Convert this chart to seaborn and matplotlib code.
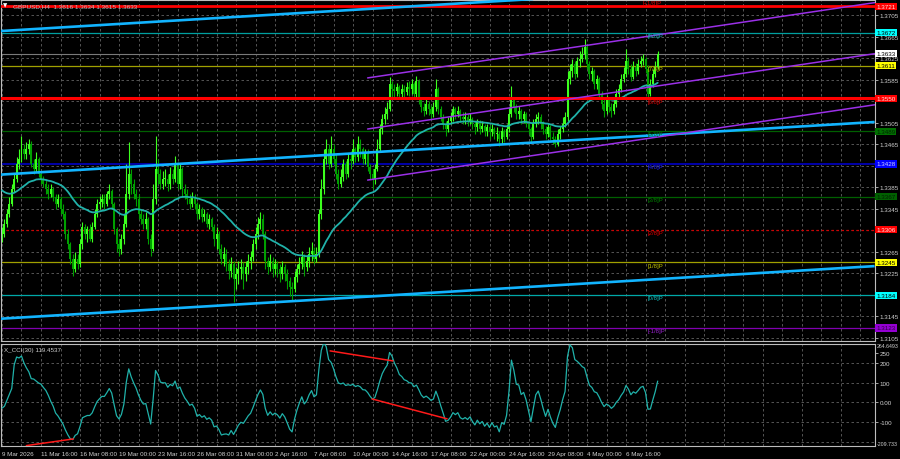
import numpy as np
import pandas as pd
import matplotlib
matplotlib.use("Agg")
import matplotlib.pyplot as plt
import matplotlib.transforms as mtransforms
import seaborn as sns

# ---------------- data ----------------
title_text = "GBPUSD,H4  1.3616 1.3634 1.3615 1.3633"
cci_title = "X_CCI(30) 119.4537"

first_open = 1.3288
close = [
    1.3298, 1.3316, 1.3335, 1.3354, 1.3381, 1.3400, 1.3428, 1.3437, 1.3456, 1.3447,
    1.3456, 1.3465, 1.3428, 1.3419, 1.3437, 1.3409, 1.3400, 1.3391, 1.3381, 1.3372,
    1.3381, 1.3367, 1.3354, 1.3363, 1.3344, 1.3335, 1.3298, 1.3279, 1.3251, 1.3233,
    1.3251, 1.3242, 1.3279, 1.3311, 1.3298, 1.3307, 1.3288, 1.3311, 1.3335, 1.3354,
    1.3357, 1.3363, 1.3354, 1.3372, 1.3378, 1.3354, 1.3307, 1.3279, 1.3270, 1.3288,
    1.3316, 1.3372, 1.3409, 1.3391, 1.3372, 1.3363, 1.3335, 1.3326, 1.3316, 1.3326,
    1.3288, 1.3270, 1.3363, 1.3419, 1.3409, 1.3391, 1.3400, 1.3400, 1.3391, 1.3409,
    1.3400, 1.3428, 1.3391, 1.3419, 1.3381, 1.3372, 1.3363, 1.3354, 1.3367, 1.3354,
    1.3335, 1.3344, 1.3329, 1.3335, 1.3316, 1.3326, 1.3311, 1.3288, 1.3298, 1.3270,
    1.3251, 1.3261, 1.3242, 1.3229, 1.3242, 1.3214, 1.3223, 1.3233, 1.3236, 1.3223,
    1.3236, 1.3248, 1.3255, 1.3279, 1.3298, 1.3316, 1.3326, 1.3298, 1.3248, 1.3236,
    1.3248, 1.3233, 1.3242, 1.3233, 1.3223, 1.3236, 1.3223, 1.3210, 1.3199, 1.3195,
    1.3218, 1.3233, 1.3242, 1.3255, 1.3236, 1.3248, 1.3261, 1.3266, 1.3251, 1.3261,
    1.3335, 1.3381, 1.3437, 1.3456, 1.3428, 1.3456, 1.3437, 1.3409, 1.3391, 1.3404,
    1.3428, 1.3409, 1.3437, 1.3434, 1.3456, 1.3441, 1.3465, 1.3456, 1.3437, 1.3447,
    1.3422, 1.3409, 1.3400, 1.3419, 1.3456, 1.3493, 1.3512, 1.3521, 1.3530, 1.3577,
    1.3567, 1.3564, 1.3571, 1.3558, 1.3567, 1.3562, 1.3571, 1.3567, 1.3577, 1.3558,
    1.3582, 1.3549, 1.3534, 1.3527, 1.3540, 1.3530, 1.3521, 1.3534, 1.3567, 1.3530,
    1.3515, 1.3502, 1.3493, 1.3508, 1.3515, 1.3530, 1.3521, 1.3527, 1.3515, 1.3512,
    1.3515, 1.3508, 1.3512, 1.3502, 1.3497, 1.3506, 1.3493, 1.3499, 1.3489, 1.3497,
    1.3487, 1.3493, 1.3484, 1.3484, 1.3474, 1.3489, 1.3478, 1.3493, 1.3521, 1.3549,
    1.3534, 1.3521, 1.3527, 1.3512, 1.3521, 1.3502, 1.3493, 1.3478, 1.3502, 1.3512,
    1.3515, 1.3502, 1.3493, 1.3484, 1.3497, 1.3478, 1.3474, 1.3465, 1.3484, 1.3493,
    1.3502, 1.3515, 1.3586, 1.3601, 1.3614, 1.3595, 1.3620, 1.3623, 1.3633, 1.3646,
    1.3614, 1.3595, 1.3601, 1.3577, 1.3586, 1.3558, 1.3540, 1.3527, 1.3549, 1.3534,
    1.3527, 1.3540, 1.3558, 1.3567, 1.3586, 1.3595, 1.3620, 1.3605, 1.3590, 1.3608,
    1.3601, 1.3614, 1.3620, 1.3623, 1.3605, 1.3558, 1.3577, 1.3595, 1.3608, 1.3633,
]
high = [
    1.3311, 1.3326, 1.3344, 1.3367, 1.3391, 1.3409, 1.3441, 1.3456, 1.3480, 1.3465,
    1.3469, 1.3474, 1.3471, 1.3437, 1.3450, 1.3441, 1.3415, 1.3406, 1.3400, 1.3391,
    1.3391, 1.3385, 1.3372, 1.3372, 1.3367, 1.3354, 1.3341, 1.3307, 1.3283, 1.3261,
    1.3264, 1.3261, 1.3288, 1.3320, 1.3316, 1.3313, 1.3316, 1.3320, 1.3344, 1.3363,
    1.3368, 1.3372, 1.3372, 1.3378, 1.3391, 1.3381, 1.3357, 1.3311, 1.3288, 1.3298,
    1.3335, 1.3428, 1.3469, 1.3419, 1.3400, 1.3381, 1.3372, 1.3344, 1.3335, 1.3339,
    1.3329, 1.3298, 1.3391, 1.3480, 1.3437, 1.3419, 1.3415, 1.3419, 1.3409, 1.3422,
    1.3419, 1.3443, 1.3432, 1.3428, 1.3422, 1.3391, 1.3381, 1.3372, 1.3376, 1.3372,
    1.3357, 1.3354, 1.3348, 1.3344, 1.3339, 1.3335, 1.3329, 1.3316, 1.3311, 1.3303,
    1.3279, 1.3274, 1.3270, 1.3251, 1.3255, 1.3248, 1.3236, 1.3248, 1.3251, 1.3246,
    1.3248, 1.3261, 1.3266, 1.3288, 1.3311, 1.3329, 1.3339, 1.3335, 1.3303, 1.3255,
    1.3261, 1.3255, 1.3251, 1.3248, 1.3242, 1.3248, 1.3242, 1.3233, 1.3218, 1.3208,
    1.3229, 1.3242, 1.3255, 1.3266, 1.3261, 1.3259, 1.3274, 1.3283, 1.3274, 1.3274,
    1.3344, 1.3400, 1.3456, 1.3474, 1.3465, 1.3480, 1.3465, 1.3447, 1.3419, 1.3419,
    1.3437, 1.3434, 1.3447, 1.3452, 1.3474, 1.3460, 1.3480, 1.3474, 1.3460, 1.3456,
    1.3456, 1.3428, 1.3419, 1.3428, 1.3474, 1.3502, 1.3521, 1.3534, 1.3543, 1.3590,
    1.3582, 1.3577, 1.3579, 1.3575, 1.3577, 1.3575, 1.3580, 1.3582, 1.3586, 1.3580,
    1.3592, 1.3586, 1.3553, 1.3541, 1.3549, 1.3545, 1.3538, 1.3543, 1.3586, 1.3571,
    1.3536, 1.3521, 1.3508, 1.3515, 1.3525, 1.3536, 1.3534, 1.3536, 1.3530, 1.3525,
    1.3525, 1.3521, 1.3523, 1.3515, 1.3508, 1.3512, 1.3510, 1.3508, 1.3502, 1.3502,
    1.3500, 1.3502, 1.3497, 1.3497, 1.3489, 1.3497, 1.3493, 1.3502, 1.3534, 1.3573,
    1.3553, 1.3540, 1.3536, 1.3530, 1.3527, 1.3525, 1.3508, 1.3497, 1.3512, 1.3521,
    1.3525, 1.3521, 1.3508, 1.3499, 1.3504, 1.3500, 1.3487, 1.3480, 1.3493, 1.3499,
    1.3515, 1.3525, 1.3601, 1.3614, 1.3623, 1.3620, 1.3627, 1.3638, 1.3646, 1.3660,
    1.3651, 1.3620, 1.3608, 1.3605, 1.3593, 1.3590, 1.3564, 1.3549, 1.3556, 1.3553,
    1.3541, 1.3549, 1.3567, 1.3577, 1.3595, 1.3608, 1.3642, 1.3627, 1.3614, 1.3620,
    1.3616, 1.3623, 1.3629, 1.3633, 1.3627, 1.3612, 1.3586, 1.3605, 1.3620, 1.3638,
]
low = [
    1.3283, 1.3292, 1.3311, 1.3329, 1.3350, 1.3376, 1.3394, 1.3419, 1.3432, 1.3437,
    1.3437, 1.3447, 1.3422, 1.3409, 1.3413, 1.3404, 1.3391, 1.3385, 1.3372, 1.3363,
    1.3367, 1.3359, 1.3344, 1.3348, 1.3335, 1.3326, 1.3288, 1.3270, 1.3242, 1.3220,
    1.3227, 1.3233, 1.3236, 1.3270, 1.3288, 1.3283, 1.3285, 1.3283, 1.3307, 1.3329,
    1.3344, 1.3348, 1.3344, 1.3350, 1.3363, 1.3344, 1.3298, 1.3264, 1.3257, 1.3261,
    1.3279, 1.3311, 1.3363, 1.3372, 1.3363, 1.3350, 1.3326, 1.3316, 1.3307, 1.3307,
    1.3279, 1.3257, 1.3266, 1.3354, 1.3391, 1.3381, 1.3381, 1.3387, 1.3378, 1.3381,
    1.3391, 1.3394, 1.3381, 1.3381, 1.3368, 1.3363, 1.3354, 1.3344, 1.3348, 1.3344,
    1.3326, 1.3326, 1.3320, 1.3322, 1.3311, 1.3307, 1.3303, 1.3275, 1.3270, 1.3261,
    1.3242, 1.3238, 1.3229, 1.3214, 1.3218, 1.3171, 1.3195, 1.3205, 1.3214, 1.3195,
    1.3210, 1.3223, 1.3233, 1.3248, 1.3270, 1.3288, 1.3307, 1.3288, 1.3233, 1.3223,
    1.3229, 1.3218, 1.3223, 1.3218, 1.3208, 1.3214, 1.3210, 1.3195, 1.3182, 1.3173,
    1.3190, 1.3208, 1.3223, 1.3233, 1.3220, 1.3229, 1.3236, 1.3248, 1.3242, 1.3246,
    1.3255, 1.3326, 1.3372, 1.3428, 1.3419, 1.3422, 1.3428, 1.3400, 1.3381, 1.3385,
    1.3396, 1.3400, 1.3404, 1.3419, 1.3428, 1.3432, 1.3434, 1.3441, 1.3428, 1.3428,
    1.3415, 1.3400, 1.3381, 1.3391, 1.3415, 1.3452, 1.3484, 1.3502, 1.3512, 1.3527,
    1.3553, 1.3553, 1.3554, 1.3549, 1.3553, 1.3553, 1.3556, 1.3554, 1.3558, 1.3549,
    1.3553, 1.3540, 1.3525, 1.3517, 1.3521, 1.3519, 1.3512, 1.3515, 1.3527, 1.3521,
    1.3508, 1.3493, 1.3480, 1.3487, 1.3502, 1.3508, 1.3512, 1.3515, 1.3506, 1.3502,
    1.3502, 1.3499, 1.3502, 1.3493, 1.3484, 1.3489, 1.3484, 1.3487, 1.3480, 1.3480,
    1.3474, 1.3480, 1.3474, 1.3471, 1.3461, 1.3465, 1.3469, 1.3474, 1.3487, 1.3515,
    1.3525, 1.3512, 1.3512, 1.3502, 1.3504, 1.3497, 1.3484, 1.3469, 1.3474, 1.3497,
    1.3502, 1.3493, 1.3484, 1.3474, 1.3478, 1.3473, 1.3465, 1.3460, 1.3461, 1.3474,
    1.3487, 1.3497, 1.3508, 1.3577, 1.3590, 1.3586, 1.3590, 1.3608, 1.3618, 1.3623,
    1.3605, 1.3586, 1.3582, 1.3567, 1.3567, 1.3549, 1.3530, 1.3515, 1.3521, 1.3525,
    1.3515, 1.3521, 1.3534, 1.3549, 1.3562, 1.3580, 1.3590, 1.3595, 1.3582, 1.3586,
    1.3592, 1.3595, 1.3608, 1.3612, 1.3597, 1.3549, 1.3554, 1.3571, 1.3590, 1.3605,
]

date_labels = ["9 Mar 2026", "11 Mar 16:00", "16 Mar 08:00", "19 Mar 00:00",
               "23 Mar 16:00", "26 Mar 08:00", "31 Mar 00:00", "2 Apr 16:00",
               "7 Apr 08:00", "10 Apr 00:00", "14 Apr 16:00", "17 Apr 08:00",
               "22 Apr 00:00", "24 Apr 16:00", "29 Apr 08:00", "4 May 00:00",
               "6 May 16:00"]
bars_per_label = 16

ma_period = 20          # smoothed moving average
ma_seed = 1.3383        # MA value at the left edge
cci_period = 30
cci_head = [-30, -20, 10, 40, 70, 190, 230, 225, 235, 200, 175, 155, 120, 118,
            108, 98, 92, 75, 60, 35, 5, -20, -55, -70, -90, -110, -140, -165, -185]

price_ticks = [1.3105, 1.3145, 1.3185, 1.3225, 1.3265, 1.3305, 1.3345, 1.3385,
               1.3425, 1.3465, 1.3505, 1.3545, 1.3585, 1.3625, 1.3665, 1.3705]
hidden_price_ticks = [1.3185, 1.3305, 1.3425, 1.3545]   # covered by level boxes
cci_ticks = [250, 200, 100, 0, -100]
cci_tick_labels = ["250", "200", "100", "0.00", "-100"]
cci_max_label = "264.6493"
cci_min_value = -209.733
cci_grid = [200, 100, 0, -100, -200]

murray_levels = [1.3672, 1.3611, 1.3550, 1.3489, 1.3428, 1.3367, 1.3306, 1.3245, 1.3184, 1.3123]
murray_names = ["[8/8]P", "[7/8]P", "[6/8]P", "[5/8]P", "[4/8]P", "[3/8]P",
                "[2/8]P", "[1/8]P", "[0/8]P", "[-1/8]P"]
murray_top_level = 1.3733
murray_top_name = "[+1/8]P"
murray_label_bar = 265

resist_top = 1.3721
resist_mid = 1.3550
bid_price = 1.3633

# equidistant (cyan) channel: bar index endpoints and prices
cyan_x = [-1, 358]
cyan_upper = [1.3675, 1.3773]
cyan_mid = [1.3408, 1.3506]
cyan_lower = [1.3140, 1.3238]

# regression (purple) channel
purple_x = [150, 358]
purple_upper = [1.3588, 1.3728]
purple_mid = [1.3493, 1.3633]
purple_lower = [1.3398, 1.3538]

# CCI divergence lines
div_x = [[10, 29.3], [134.6, 160.4], [151.8, 182.6]]
div_y = [[-220, -186], [261, 210], [17, -84]]

# ---------------- style ----------------
sns.set_theme(style="dark", rc={
    "figure.facecolor": "black", "axes.facecolor": "black",
    "axes.edgecolor": "#bdbdbd", "axes.linewidth": 0.8,
    "xtick.color": "#bdbdbd", "ytick.color": "#bdbdbd",
    "text.color": "#d0d0d0"})
plt.rcParams["font.family"] = ["Liberation Sans", "DejaVu Sans"]

GRID = dict(color="#626262", linestyle=(0, (3, 3)), linewidth=0.6)
BULL = "#3cff1e"
BEAR = "#00a000"
MA_COL = "#20b2aa"
LBL = "#d0d0d0"
FS = 4.5

fig = plt.figure(figsize=(9, 4.6), dpi=100)
ax = fig.add_axes([1 / 900, 1 - 342 / 460, 874 / 900, 341 / 460])
ax2 = fig.add_axes([1 / 900, 1 - 447 / 460, 874 / 900, 102 / 460])

n = len(close)
idx = np.arange(n)
c = np.array(close)
o = np.array([first_open] + close[:-1])
h = np.maximum(np.array(high), np.maximum(o, c))
l = np.minimum(np.array(low), np.minimum(o, c))

df = pd.DataFrame({"bar": idx, "open": o, "high": h, "low": l, "close": c})

# smoothed MA
df["ma"] = pd.Series([ma_seed] + close).ewm(alpha=1 / ma_period, adjust=False).mean().iloc[1:].values
# CCI
tp = (df["high"] + df["low"] + df["close"]) / 3
sma = tp.rolling(cci_period).mean()
md = tp.rolling(cci_period).apply(lambda x: np.mean(np.abs(x - x.mean())), raw=True)
cci = (tp - sma) / (0.015 * md)
cci.iloc[:len(cci_head)] = cci_head
df["cci"] = cci.values

xlim = (-0.41, 358.15)

# ---------------- main panel ----------------
ax.set_xlim(*xlim)
ax.set_ylim(1.30987, 1.37329)
ax.set_yticks(price_ticks)
ax.set_yticklabels(["" if v in hidden_price_ticks else f"{v:.4f}" for v in price_ticks])
ax.yaxis.tick_right()
ax.tick_params(axis="y", length=2, width=0.6, pad=1.2, labelsize=FS, labelcolor=LBL)
ax.set_xticks(np.arange(0, 359, bars_per_label))
ax.set_xticks(np.arange(8, 359, bars_per_label), minor=True)
ax.tick_params(axis="x", which="both", length=0, labelbottom=False)
ax.grid(True, which="both", **GRID)
ax.set_axisbelow(True)

# murray levels
m_cols = ["#00a0a0", "#a0a000", "#d00000", "#006000", "#0000a8",
          "#006000", "#d00000", "#a0a000", "#00a8a8", "#8000b0"]
m_txt = ["#10b0b0", "#c0c000", "#e00000", "#007000", "#2020ff",
         "#008000", "#e00000", "#c0c000", "#10c0c0", "#9a20d0"]
for lv, col, nm, tc in zip(murray_levels, m_cols, murray_names, m_txt):
    ls = (0, (2, 2)) if nm == "[2/8]P" else "-"
    lw = 1.4 if nm == "[4/8]P" else 0.9
    ax.axhline(lv, color=col, lw=lw, ls=ls, zorder=1)
    ax.text(murray_label_bar, lv - 0.00005, nm, color=tc, fontsize=4.3,
            va="top", ha="left", zorder=6)
ax.text(murray_label_bar - 2, murray_top_level - 0.00005, murray_top_name,
        color="#e00000", fontsize=4.3, va="top", ha="left", zorder=6)

ax.axhline(bid_price, color="#7a7a7a", lw=0.8, zorder=1)

# candles
cols = np.where(c >= o, BULL, BEAR)
ax.vlines(df["bar"], df["low"], df["high"], colors=cols, lw=0.8, zorder=2)
body = np.maximum(np.abs(c - o), 0.00012)
ax.bar(df["bar"], body, bottom=np.minimum(o, c), width=0.8, color=cols,
       linewidth=0, zorder=2.2)

# moving average
sns.lineplot(data=df, x="bar", y="ma", ax=ax, color=MA_COL, lw=1.3,
             estimator=None, sort=False, zorder=3)

# horizontal red lines
ax.axhline(resist_top, color="#ff0000", lw=2.0, zorder=4)
ax.axhline(resist_mid, color="#ff0000", lw=2.2, zorder=4)

# channels
for yy in (cyan_upper, cyan_mid, cyan_lower):
    ax.plot(cyan_x, yy, color="#12b4ff", lw=1.9, zorder=4, solid_capstyle="butt")
for yy in (purple_upper, purple_mid, purple_lower):
    ax.plot(purple_x, yy, color="#9b30e8", lw=1.1, zorder=4)

ax.set_xlabel("")
ax.set_ylabel("")
for s in ax.spines.values():
    s.set_color("#bdbdbd")
    s.set_linewidth(0.8)

# right price labels with coloured boxes
trans = mtransforms.blended_transform_factory(ax.transAxes, ax.transData)
box_labels = [
    (resist_top, "#ff0000", "#ffe0e0"),
    (murray_levels[0], "#00ffff", "#000000"),
    (bid_price, "#ffffff", "#000000"),
    (murray_levels[1], "#ffff00", "#000000"),
    (murray_levels[2], "#ff0000", "#ffe0e0"),
    (murray_levels[3], "#007000", "#002000"),
    (murray_levels[4], "#0000ff", "#d0d0ff"),
    (murray_levels[5], "#006000", "#002000"),
    (murray_levels[6], "#ff0000", "#ffe0e0"),
    (murray_levels[7], "#ffff00", "#000000"),
    (murray_levels[8], "#00ffff", "#000000"),
    (murray_levels[9], "#9400d3", "#300040"),
]
for price, bg, tc in box_labels:
    ax.text(1.0013, price, f"{price:.4f}", transform=trans, fontsize=FS,
            color=tc, va="center", ha="left", clip_on=False, zorder=10,
            bbox=dict(boxstyle="square,pad=0.18", fc=bg, ec="none"))

# title
fig.text(3 / 900, 1 - 6 / 460, "\u25bc", fontsize=4, color="#ffffff",
         va="center", ha="left", family=["DejaVu Sans"])
fig.text(13 / 900, 1 - 6.5 / 460, title_text, fontsize=4.6, color="#bdbdbd",
         va="center", ha="left")

# ---------------- CCI panel ----------------
ax2.set_xlim(*xlim)
ax2.set_ylim(-222, 296)
sns.lineplot(data=df, x="bar", y="cci", ax=ax2, color=MA_COL, lw=0.9,
             estimator=None, sort=False, zorder=3)
for xx, yy in zip(div_x, div_y):
    ax2.plot(xx, yy, color="#ff1a1a", lw=1.1, zorder=4)
for g in cci_grid:
    ax2.axhline(g, zorder=0, **GRID)
ax2.set_yticks(cci_ticks)
ax2.set_yticklabels(cci_tick_labels)
ax2.yaxis.tick_right()
ax2.tick_params(axis="y", length=2, width=0.6, pad=1.2, labelsize=FS, labelcolor=LBL)
ax2.set_xticks(np.arange(0, n, bars_per_label))
ax2.set_xticklabels(date_labels, ha="left")
ax2.set_xticks(np.arange(8, 359, bars_per_label), minor=True)
ax2.tick_params(axis="x", which="major", length=2, width=0.6, pad=1.5,
                labelsize=FS, labelcolor=LBL)
ax2.tick_params(axis="x", which="minor", length=0)
ax2.xaxis.grid(True, which="both", **GRID)
ax2.yaxis.grid(False)
ax2.set_axisbelow(True)
ax2.set_xlabel("")
ax2.set_ylabel("")
for s in ax2.spines.values():
    s.set_color("#bdbdbd")
    s.set_linewidth(0.8)
ax2.text(0.004, 0.95, cci_title, transform=ax2.transAxes, fontsize=4.5,
         color=LBL, va="center", ha="left")
# max / min labels of the indicator window
ax2.text(1.0025, 0.985, cci_max_label, transform=ax2.transAxes, fontsize=3.8,
         color=LBL, va="center", ha="left", clip_on=False)
trans2 = mtransforms.blended_transform_factory(ax2.transAxes, ax2.transData)
ax2.text(1.0025, cci_min_value, f"{cci_min_value:.3f}", transform=trans2,
         fontsize=3.8, color=LBL, va="center", ha="left", clip_on=False)

fig.savefig("out.png", dpi=100, facecolor="black")
